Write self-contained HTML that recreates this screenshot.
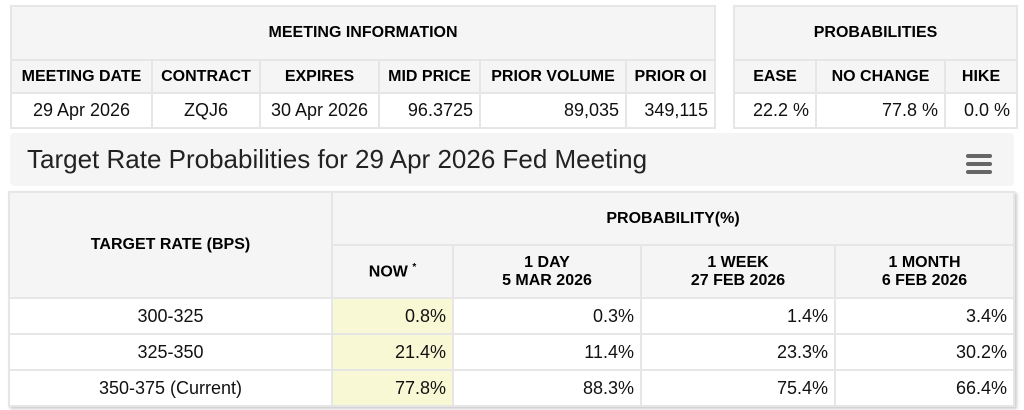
<!DOCTYPE html>
<html><head><style>
body{margin:0;width:1024px;height:410px;background:#fff;overflow:hidden;font-family:"Liberation Sans",Arial,sans-serif;color:#111;position:relative}
table{position:absolute;border-collapse:collapse;table-layout:fixed}
td,th{border:2px solid #e6e6e6;padding:0 6px;font-size:18px;white-space:nowrap;overflow:hidden}
th{background:#f5f5f5;font-weight:bold;font-size:16px;text-align:center;color:#000}
td{text-align:right}
td.c{text-align:center}
.y{background:#f8f8d4}
#title{position:absolute;left:10px;top:133px;width:1004px;height:53px;background:#f5f5f5;border-radius:4px}
#title span{position:absolute;left:17px;top:11px;font-size:26px;color:#222}
.bar{position:absolute;left:956px;width:26px;height:4px;background:#666;border-radius:2px}
</style></head><body>
<table style="left:10px;top:5px;width:705px">
<colgroup><col style="width:141px"><col style="width:108px"><col style="width:119px"><col style="width:101px"><col style="width:146px"><col style="width:89px"></colgroup>
<tr style="height:54px"><th colspan="6">MEETING INFORMATION</th></tr>
<tr style="height:33px"><th>MEETING DATE</th><th>CONTRACT</th><th>EXPIRES</th><th>MID PRICE</th><th>PRIOR VOLUME</th><th>PRIOR OI</th></tr>
<tr style="height:35px;background:#fff"><td class="c">29 Apr 2026</td><td class="c">ZQJ6</td><td class="c">30 Apr 2026</td><td>96.3725</td><td>89,035</td><td>349,115</td></tr>
</table>
<table style="left:733px;top:5px;width:283px">
<colgroup><col style="width:82px"><col style="width:129px"><col style="width:72px"></colgroup>
<tr style="height:54px"><th colspan="3">PROBABILITIES</th></tr>
<tr style="height:33px"><th>EASE</th><th>NO CHANGE</th><th>HIKE</th></tr>
<tr style="height:35px"><td>22.2 %</td><td>77.8 %</td><td>0.0 %</td></tr>
</table>
<div id="title"><span>Target Rate Probabilities for 29 Apr 2026 Fed Meeting</span>
<div class="bar" style="top:21px"></div><div class="bar" style="top:29px"></div><div class="bar" style="top:37px"></div></div>
<table style="left:8px;top:191px;width:1005px;box-shadow:2px 2px 3px #ccc">
<colgroup><col style="width:323px"><col style="width:121px"><col style="width:188px"><col style="width:194px"><col style="width:179px"></colgroup>
<tr style="height:53px"><th rowspan="2">TARGET RATE (BPS)</th><th colspan="4">PROBABILITY(%)</th></tr>
<tr style="height:53px"><th>NOW <sup style="font-size:10px">*</sup></th><th>1 DAY<br>5 MAR 2026</th><th>1 WEEK<br>27 FEB 2026</th><th>1 MONTH<br>6 FEB 2026</th></tr>
<tr style="height:36px"><td class="c">300-325</td><td class="y">0.8%</td><td>0.3%</td><td>1.4%</td><td>3.4%</td></tr>
<tr style="height:36px"><td class="c">325-350</td><td class="y">21.4%</td><td>11.4%</td><td>23.3%</td><td>30.2%</td></tr>
<tr style="height:36px"><td class="c">350-375 (Current)</td><td class="y">77.8%</td><td>88.3%</td><td>75.4%</td><td>66.4%</td></tr>
</table>
</body></html>
